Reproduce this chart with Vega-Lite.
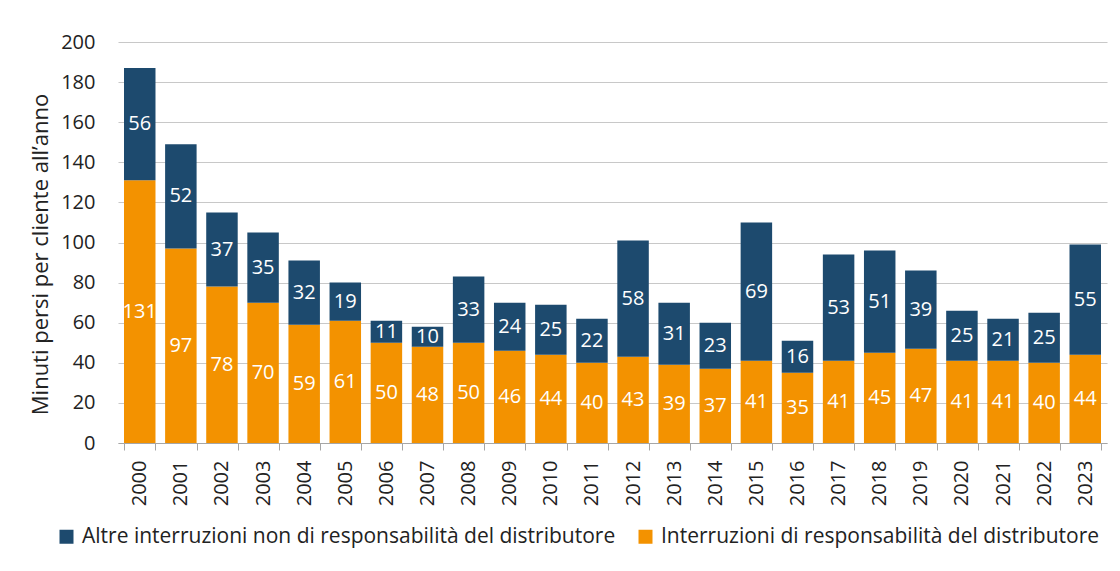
{
  "$schema": "https://vega.github.io/schema/vega-lite/v6.json",
  "autosize": "none",
  "width": 989,
  "height": 401,
  "padding": {"left": 118, "top": 42, "right": 13, "bottom": 128},
  "background": "white",
  "config": {
    "font": "Open Sans",
    "view": {"stroke": null},
    "axis": {"labelFont": "Open Sans", "titleFont": "Open Sans", "labelColor": "#222222", "titleColor": "#222222"}
  },
  "data": {
    "values": [
      {"anno": "2000", "serie": "Interruzioni di responsabilità del distributore", "valore": 131},
      {"anno": "2000", "serie": "Altre interruzioni non di responsabilità del distributore", "valore": 56},
      {"anno": "2001", "serie": "Interruzioni di responsabilità del distributore", "valore": 97},
      {"anno": "2001", "serie": "Altre interruzioni non di responsabilità del distributore", "valore": 52},
      {"anno": "2002", "serie": "Interruzioni di responsabilità del distributore", "valore": 78},
      {"anno": "2002", "serie": "Altre interruzioni non di responsabilità del distributore", "valore": 37},
      {"anno": "2003", "serie": "Interruzioni di responsabilità del distributore", "valore": 70},
      {"anno": "2003", "serie": "Altre interruzioni non di responsabilità del distributore", "valore": 35},
      {"anno": "2004", "serie": "Interruzioni di responsabilità del distributore", "valore": 59},
      {"anno": "2004", "serie": "Altre interruzioni non di responsabilità del distributore", "valore": 32},
      {"anno": "2005", "serie": "Interruzioni di responsabilità del distributore", "valore": 61},
      {"anno": "2005", "serie": "Altre interruzioni non di responsabilità del distributore", "valore": 19},
      {"anno": "2006", "serie": "Interruzioni di responsabilità del distributore", "valore": 50},
      {"anno": "2006", "serie": "Altre interruzioni non di responsabilità del distributore", "valore": 11},
      {"anno": "2007", "serie": "Interruzioni di responsabilità del distributore", "valore": 48},
      {"anno": "2007", "serie": "Altre interruzioni non di responsabilità del distributore", "valore": 10},
      {"anno": "2008", "serie": "Interruzioni di responsabilità del distributore", "valore": 50},
      {"anno": "2008", "serie": "Altre interruzioni non di responsabilità del distributore", "valore": 33},
      {"anno": "2009", "serie": "Interruzioni di responsabilità del distributore", "valore": 46},
      {"anno": "2009", "serie": "Altre interruzioni non di responsabilità del distributore", "valore": 24},
      {"anno": "2010", "serie": "Interruzioni di responsabilità del distributore", "valore": 44},
      {"anno": "2010", "serie": "Altre interruzioni non di responsabilità del distributore", "valore": 25},
      {"anno": "2011", "serie": "Interruzioni di responsabilità del distributore", "valore": 40},
      {"anno": "2011", "serie": "Altre interruzioni non di responsabilità del distributore", "valore": 22},
      {"anno": "2012", "serie": "Interruzioni di responsabilità del distributore", "valore": 43},
      {"anno": "2012", "serie": "Altre interruzioni non di responsabilità del distributore", "valore": 58},
      {"anno": "2013", "serie": "Interruzioni di responsabilità del distributore", "valore": 39},
      {"anno": "2013", "serie": "Altre interruzioni non di responsabilità del distributore", "valore": 31},
      {"anno": "2014", "serie": "Interruzioni di responsabilità del distributore", "valore": 37},
      {"anno": "2014", "serie": "Altre interruzioni non di responsabilità del distributore", "valore": 23},
      {"anno": "2015", "serie": "Interruzioni di responsabilità del distributore", "valore": 41},
      {"anno": "2015", "serie": "Altre interruzioni non di responsabilità del distributore", "valore": 69},
      {"anno": "2016", "serie": "Interruzioni di responsabilità del distributore", "valore": 35},
      {"anno": "2016", "serie": "Altre interruzioni non di responsabilità del distributore", "valore": 16},
      {"anno": "2017", "serie": "Interruzioni di responsabilità del distributore", "valore": 41},
      {"anno": "2017", "serie": "Altre interruzioni non di responsabilità del distributore", "valore": 53},
      {"anno": "2018", "serie": "Interruzioni di responsabilità del distributore", "valore": 45},
      {"anno": "2018", "serie": "Altre interruzioni non di responsabilità del distributore", "valore": 51},
      {"anno": "2019", "serie": "Interruzioni di responsabilità del distributore", "valore": 47},
      {"anno": "2019", "serie": "Altre interruzioni non di responsabilità del distributore", "valore": 39},
      {"anno": "2020", "serie": "Interruzioni di responsabilità del distributore", "valore": 41},
      {"anno": "2020", "serie": "Altre interruzioni non di responsabilità del distributore", "valore": 25},
      {"anno": "2021", "serie": "Interruzioni di responsabilità del distributore", "valore": 41},
      {"anno": "2021", "serie": "Altre interruzioni non di responsabilità del distributore", "valore": 21},
      {"anno": "2022", "serie": "Interruzioni di responsabilità del distributore", "valore": 40},
      {"anno": "2022", "serie": "Altre interruzioni non di responsabilità del distributore", "valore": 25},
      {"anno": "2023", "serie": "Interruzioni di responsabilità del distributore", "valore": 44},
      {"anno": "2023", "serie": "Altre interruzioni non di responsabilità del distributore", "valore": 55}
    ]
  },
  "transform": [
    {"stack": "valore", "groupby": ["anno"], "sort": [{"field": "serie", "order": "descending"}], "as": ["y0", "y1"]},
    {"calculate": "(datum.y0 + datum.y1) / 2", "as": "ymid"}
  ],
  "encoding": {
    "x": {
      "field": "anno", "type": "ordinal",
      "scale": {"paddingInner": 0.234, "paddingOuter": 0.146},
      "axis": {
        "title": null, "labelAngle": -90, "labelFontSize": 20, "labelPadding": 10,
        "domainColor": "#a6a6a6", "tickColor": "#a6a6a6", "tickSize": 7, "tickBand": "extent",
        "labelBaseline": "middle", "labelAlign": "right"
      }
    }
  },
  "layer": [
    {
      "mark": {"type": "bar"},
      "encoding": {
        "y": {
          "field": "y0", "type": "quantitative",
          "scale": {"domain": [0, 200]},
          "axis": {
            "title": "Minuti persi per cliente all’anno", "titleFontSize": 22, "titleFontWeight": "normal",
            "titlePadding": 8, "titleY": 212, "values": [0, 20, 40, 60, 80, 100, 120, 140, 160, 180, 200],
            "labelFontSize": 20, "labelPadding": 23, "ticks": false, "domain": false,
            "gridColor": "#c8c8c8", "gridWidth": 1.2
          }
        },
        "y2": {"field": "y1"},
        "color": {
          "field": "serie", "type": "nominal",
          "scale": {
            "domain": ["Altre interruzioni non di responsabilità del distributore", "Interruzioni di responsabilità del distributore"],
            "range": ["#1d4a6e", "#f39200"]
          },
          "legend": {
            "title": null, "orient": "none", "direction": "horizontal", "legendX": -62, "legendY": 484,
            "symbolType": "square", "symbolSize": 196, "symbolStrokeWidth": 0, "symbolOpacity": 1,
            "labelFontSize": 21, "labelFont": "Open Sans", "labelColor": "#222222", "columnPadding": 19, "labelOffset": 5, "padding": 0,
            "labelLimit": 700
          }
        }
      }
    },
    {
      "mark": {"type": "text", "color": "white", "fontSize": 20, "font": "Open Sans", "baseline": "middle"},
      "encoding": {
        "y": {"field": "ymid", "type": "quantitative"},
        "text": {"field": "valore", "type": "quantitative"}
      }
    }
  ]
}
